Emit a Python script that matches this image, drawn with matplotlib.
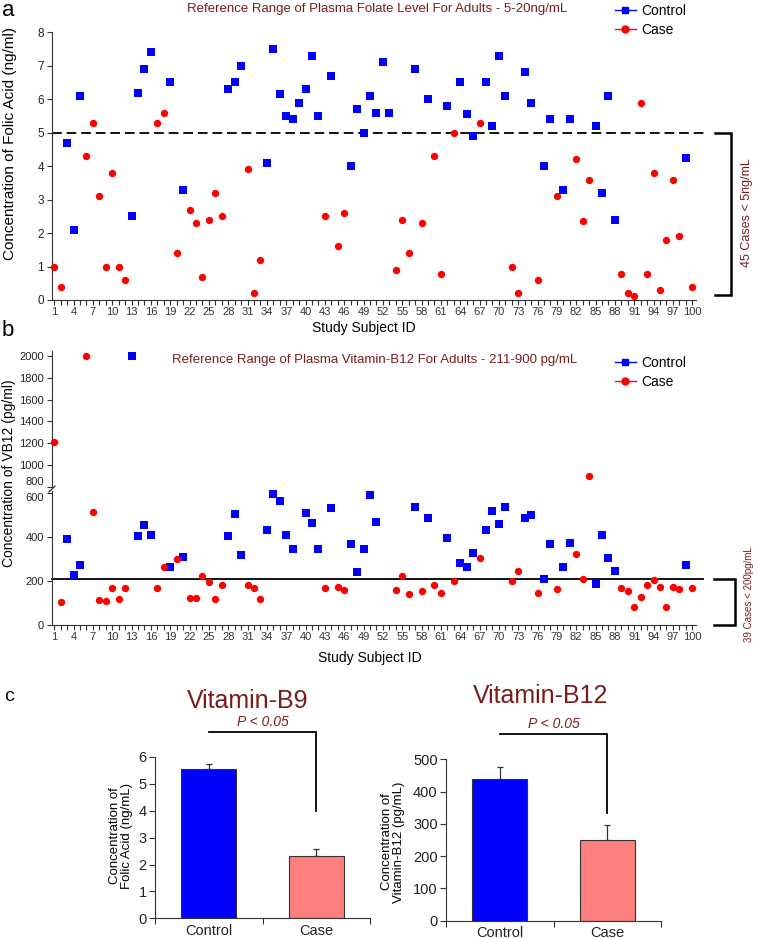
import matplotlib

matplotlib.use("Agg")
import matplotlib.pyplot as plt
from matplotlib.lines import Line2D

plt.rcParams['font.family'] = ['Liberation Sans', 'DejaVu Sans']

W, H = 758, 939
MAROON = '#7a1c1c'
BLUE = '#0000ff'
RED = '#ff0000'
SPINE = '#333333'

# --- data: panel a (folate, ng/ml) ---------------------------------------------------
folate_ctrl_id = [3, 4, 5, 13, 14, 15, 16, 19, 21, 28, 29, 30, 34, 35, 36, 37, 38, 39,
                  40, 41, 42, 44, 47, 48, 49, 50, 51, 52, 53, 57, 59, 62, 64, 65, 66,
                  68, 69, 70, 71, 74, 75, 77, 78, 80, 81, 85, 86, 87, 88, 99]
folate_ctrl = [4.7, 2.1, 6.1, 2.5, 6.2, 6.9, 7.4, 6.5, 3.3, 6.3, 6.5, 7.0, 4.1, 7.5, 6.15,
               5.5, 5.4, 5.9, 6.3, 7.3, 5.5, 6.7, 4.0, 5.7, 5.0, 6.1, 5.6, 7.1, 5.6, 6.9,
               6.0, 5.8, 6.5, 5.55, 4.9, 6.5, 5.2, 7.3, 6.1, 6.8, 5.9, 4.0, 5.4, 3.3, 5.4,
               5.2, 3.2, 6.1, 2.4, 4.25]
folate_case_id = [1, 2, 6, 7, 8, 9, 10, 11, 12, 17, 18, 20, 22, 23, 24, 25, 26, 27, 31,
                  32, 33, 43, 45, 46, 54, 55, 56, 58, 60, 61, 63, 67, 72, 73, 76, 79, 82,
                  83, 84, 89, 90, 91, 92, 93, 94, 95, 96, 97, 98, 100]
folate_case = [1.0, 0.4, 4.3, 5.3, 3.1, 1.0, 3.8, 1.0, 0.6, 5.3, 5.6, 1.4, 2.7, 2.3, 0.7,
               2.4, 3.2, 2.5, 3.9, 0.2, 1.2, 2.5, 1.6, 2.6, 0.9, 2.4, 1.4, 2.3, 4.3, 0.77,
               5.0, 5.3, 1.0, 0.2, 0.6, 3.1, 4.2, 2.35, 3.58, 0.79, 0.21, 0.13, 5.9, 0.79,
               3.8, 0.3, 1.8, 3.6, 1.9, 0.39]
FOLATE_REF = 5.0

# --- data: panel b (vitamin B12, pg/ml) ----------------------------------------------
b12_ctrl_id = [3, 4, 5, 13, 14, 15, 16, 19, 21, 28, 29, 30, 34, 35, 36, 37, 38, 40, 41,
               42, 44, 47, 48, 49, 50, 51, 57, 59, 62, 64, 65, 66, 68, 69, 70, 71, 74, 75,
               77, 78, 80, 81, 85, 86, 87, 88, 99]
b12_ctrl = [391, 229, 273, 2000, 405, 455, 408, 265, 309, 405, 506, 317, 432, 595, 564,
            408, 347, 509, 465, 347, 533, 367, 241, 347, 591, 467, 539, 486, 398, 280, 262,
            330, 432, 520, 462, 536, 488, 503, 211, 371, 262, 374, 188, 408, 303, 248, 273]
b12_case_id = folate_case_id
b12_case = [1215, 103, 2000, 514, 114, 111, 167, 117, 167, 167, 262, 300, 123, 123, 221,
            194, 118, 183, 180, 167, 117, 167, 171, 158, 161, 221, 139, 156, 180, 147, 200,
            306, 200, 244, 147, 162, 324, 211, 900, 168, 156, 82, 126, 182, 203, 171, 82,
            171, 162, 167]
B12_REF = 211

# --- data: panel c (group means) -----------------------------------------------------
groups = ['Control', 'Case']
b9_mean = [5.55, 2.31]
b9_sem = [0.2, 0.25]
b12_mean = [440, 250]
b12_sem = [35, 47]

subject_ticks = list(range(1, 101, 3))


def axes_px(fig, left, top, right, bottom):
    return fig.add_axes([left / W, 1 - bottom / H, (right - left) / W, (bottom - top) / H])


def text_px(fig, x, y, s, **kw):
    return fig.text(x / W, 1 - y / H, s, **kw)


def style_spines(ax, show_bottom=True):
    ax.spines['top'].set_visible(False)
    ax.spines['right'].set_visible(False)
    ax.spines['left'].set_color(SPINE)
    ax.spines['bottom'].set_color(SPINE)
    if not show_bottom:
        ax.spines['bottom'].set_visible(False)
    ax.tick_params(colors=SPINE, labelcolor='#222222', width=0.8, length=3.5)


def subject_xaxis(ax):
    ax.set_xlim(0.6, 100.6)
    ax.set_xticks(subject_ticks)
    ax.set_xticks(range(1, 101), minor=True)
    ax.tick_params(axis='x', which='both', length=3.5, width=0.8, labelsize=8, pad=1.5,
                   colors=SPINE)


def legend_px(fig, x, y):
    handles = [Line2D([0], [0], color=BLUE, marker='s', ms=5, lw=1),
               Line2D([0], [0], color=RED, marker='o', ms=5, lw=1)]
    fig.legend(handles, groups, loc='upper left', bbox_to_anchor=(x / W, 1 - y / H),
               frameon=False, fontsize=10, handlelength=1.5, handletextpad=0.4,
               labelspacing=0.35, borderpad=0, borderaxespad=0)


fig = plt.figure(figsize=(W / 100, H / 100), dpi=100)

# --- Panel a ---------------------------------------------------------------------------
ax_a = axes_px(fig, 51.7, 32.3, 696.1, 300)
ax_a.scatter(folate_ctrl_id, folate_ctrl, marker='s', s=26, c=BLUE, lw=0, clip_on=False,
             zorder=3)
ax_a.scatter(folate_case_id, folate_case, marker='o', s=28, c=RED, lw=0, clip_on=False,
             zorder=3)
ax_a.plot([0.6, 102.2], [FOLATE_REF, FOLATE_REF], color='#111111', lw=1.4,
          dashes=(5, 2.5), clip_on=False, zorder=2)
ax_a.plot([103.5, 106.0, 106.0, 103.5], [FOLATE_REF, FOLATE_REF, 0.15, 0.15],
          color='black', lw=1.8, clip_on=False, solid_joinstyle='miter')
ax_a.set_ylim(0, 8)
ax_a.set_yticks(range(0, 9))
ax_a.tick_params(axis='y', labelsize=8.5, pad=2)
style_spines(ax_a)
subject_xaxis(ax_a)

text_px(fig, 2, 0, 'a', fontsize=16, va='top', ha='left')
text_px(fig, 377, 9, 'Reference Range of Plasma Folate Level For Adults - 5-20ng/mL',
        color=MAROON, fontsize=9.5, ha='center', va='center')
text_px(fig, 10, 143, 'Concentration of Folic Acid (ng/ml)', rotation=90, fontsize=11,
        ha='center', va='center')
text_px(fig, 364, 328, 'Study Subject ID', fontsize=10, ha='center', va='center')
text_px(fig, 747, 213, '45 Cases < 5ng/mL', rotation=90, fontsize=9, color=MAROON,
        ha='center', va='center')
legend_px(fig, 615, 4)

# --- Panel b (broken y axis) -----------------------------------------------------------
ax_bt = axes_px(fig, 51.7, 350.6, 696.1, 487.8)
ax_bb = axes_px(fig, 51.7, 491, 696.1, 625)

for ax, lo, hi in [(ax_bt, 790, 2050), (ax_bb, 0, 610)]:
    cid = [i for i, v in zip(b12_ctrl_id, b12_ctrl) if lo <= v <= hi]
    cv = [v for v in b12_ctrl if lo <= v <= hi]
    kid = [i for i, v in zip(b12_case_id, b12_case) if lo <= v <= hi]
    kv = [v for v in b12_case if lo <= v <= hi]
    ax.scatter(cid, cv, marker='s', s=26, c=BLUE, lw=0, clip_on=False, zorder=3)
    ax.scatter(kid, kv, marker='o', s=28, c=RED, lw=0, clip_on=False, zorder=3)
    ax.set_ylim(lo, hi)
    style_spines(ax, show_bottom=(ax is ax_bb))
    ax.tick_params(axis='y', labelsize=8, pad=2)

ax_bt.set_xlim(0.6, 100.6)
ax_bt.set_xticks([])
ax_bt.set_yticks(range(800, 2001, 200))
ax_bb.set_yticks([0, 200, 400, 600])
subject_xaxis(ax_bb)

# the 800 / 600 labels sit right on top of each other at the break; nudge them apart
fig.canvas.draw()
ax_bt.get_yticklabels()[0].set_va('bottom')
ax_bb.get_yticklabels()[-1].set_va('top')

ax_bb.plot([0.6, 101.7], [B12_REF, B12_REF], color='black', lw=1.3, clip_on=False,
           zorder=2)
ax_bb.plot([103.4, 106.6, 106.6, 103.4], [B12_REF, B12_REF, 0, 0], color='black',
           lw=1.8, clip_on=False, solid_joinstyle='miter')

# little break mark on the y axis
fig.add_artist(Line2D([49 / W, 55 / W], [1 - 492 / H, 1 - 486 / H], color=SPINE, lw=0.9))

text_px(fig, 2, 320, 'b', fontsize=16, va='top', ha='left')
text_px(fig, 375, 360, 'Reference Range of Plasma Vitamin-B12 For Adults - 211-900 pg/mL',
        color=MAROON, fontsize=9.5, ha='center', va='center')
text_px(fig, 9, 473, 'Concentration of VB12 (pg/ml)', rotation=90, fontsize=10,
        ha='center', va='center')
text_px(fig, 370, 658, 'Study Subject ID', fontsize=10, ha='center', va='center')
text_px(fig, 749, 594, '39 Cases < 200pg/mL', rotation=90, fontsize=7, color=MAROON,
        ha='center', va='center')
legend_px(fig, 615, 356)


# --- Panel c ---------------------------------------------------------------------------
def bar_panel(rect, means, sems, ymax, ystep, sig_top, sig_drop, p_y):
    ax = axes_px(fig, *rect)
    xs = [0.5, 1.5]
    ax.bar(xs, means, width=0.51, color=[BLUE, '#ff7f7f'], edgecolor='#333333', lw=0.8,
           zorder=2)
    ax.errorbar(xs, means, yerr=[[0, 0], sems], fmt='none', ecolor='#333333', elinewidth=0.9,
                capsize=2.5, capthick=0.9, zorder=1)
    ax.plot([0.5, 1.5, 1.5], [sig_top, sig_top, sig_drop], color='black', lw=1.3,
            clip_on=False, solid_joinstyle='miter')
    ax.text(1.0, p_y, 'P < 0.05', style='italic', color=MAROON, fontsize=10,
            ha='center', va='center')
    ax.set_xlim(0, 2)
    ax.set_ylim(0, ymax)
    ax.set_yticks(range(0, int(ymax) + 1, ystep))
    ax.set_xticks(xs)
    ax.set_xticklabels(groups)
    ax.set_xticks([0, 1, 2], minor=True)
    style_spines(ax)
    ax.tick_params(axis='x', which='major', length=0, labelsize=10.5, pad=4)
    ax.tick_params(axis='x', which='minor', length=4)
    ax.tick_params(axis='y', labelsize=10.5, length=4, pad=2)
    return ax


bar_panel((155, 757, 370, 918.3), b9_mean, b9_sem, 6, 1, 6.93, 4.0, 7.31)
bar_panel((446, 759.3, 661, 920.7), b12_mean, b12_sem, 500, 100, 578, 335, 609)

text_px(fig, 4, 688, 'c', fontsize=14, va='top', ha='left')
text_px(fig, 248, 701, 'Vitamin-B9', color=MAROON, fontsize=18, ha='center', va='center')
text_px(fig, 541, 696, 'Vitamin-B12', color=MAROON, fontsize=18, ha='center', va='center')
text_px(fig, 121, 836, 'Concentration of\nFolic Acid (ng/mL)', rotation=90, fontsize=9.5,
        ha='center', va='center', linespacing=1.0)
text_px(fig, 393, 842, 'Concentration of\nVitamin-B12 (pg/mL)', rotation=90, fontsize=9.5,
        ha='center', va='center', linespacing=1.0)

fig.savefig('out.png', dpi=100)
